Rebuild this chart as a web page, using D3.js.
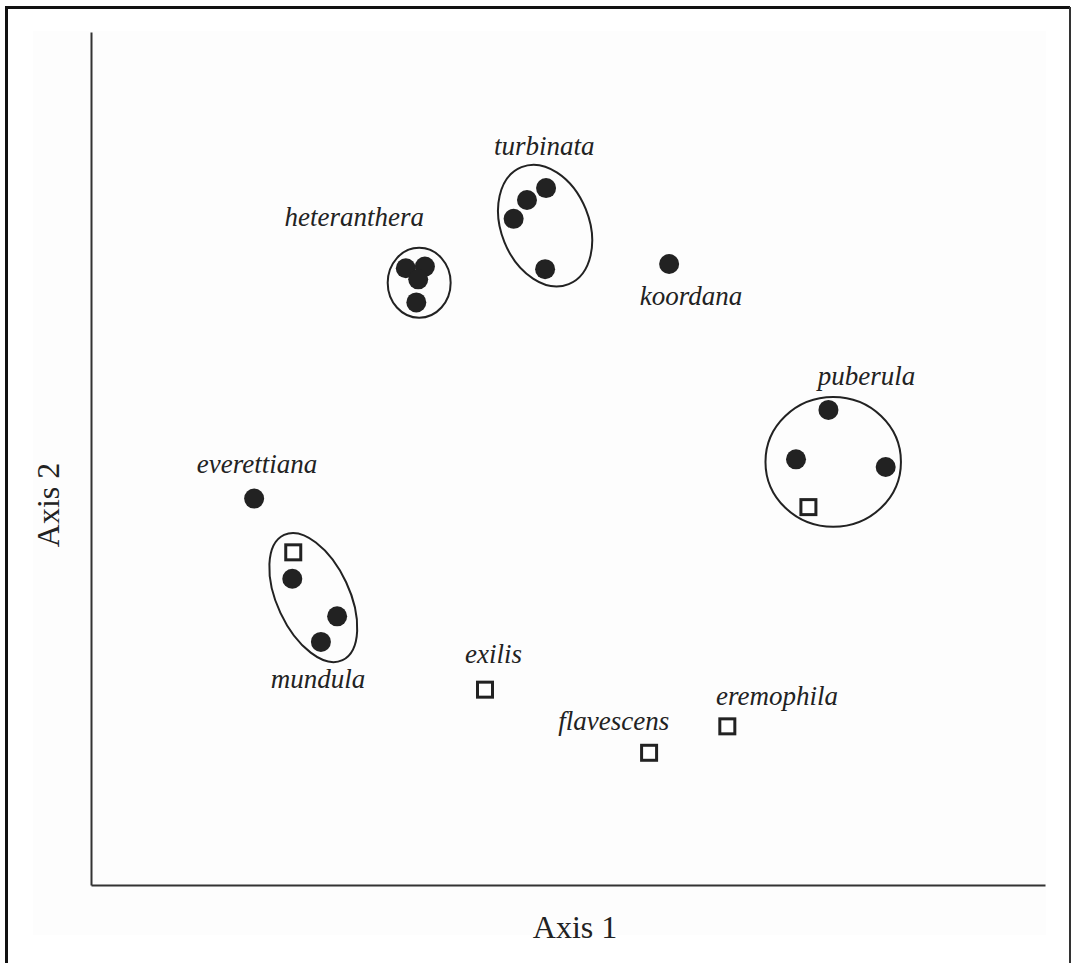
<!DOCTYPE html>
<html>
<head>
<meta charset="utf-8">
<script src="https://cdn.jsdelivr.net/npm/d3@7"></script>
<style>
  body { margin: 0; background: #fff; }
  svg { display: block; }
</style>
</head>
<body>
<div id="chart"></div>
<script>
// ordination scores (arbitrary units, 0-100 on each axis)
const dotX   = [33.0, 35.0, 34.3, 34.1, 47.7, 45.7, 44.3, 47.6, 60.6, 77.3, 73.9, 83.3, 17.1, 21.1, 25.8, 24.1];
const dotY   = [72.3, 72.5, 71.0, 68.3, 81.7, 80.3, 78.1, 72.2, 72.8, 55.7, 49.9, 49.0, 45.3, 35.9, 31.5, 28.5];

const squareX = [75.2, 21.2, 41.3, 58.5, 66.7];
const squareY = [44.3, 39.0, 22.9, 15.5, 18.6];

// groups circled in the plot: centre, radii (axis units), tilt in degrees
const hullCx    = [34.4, 47.6, 23.3, 77.8];
const hullCy    = [70.6, 77.3, 33.7, 49.6];
const hullRx    = [3.3, 4.6, 3.8, 7.1];
const hullRy    = [4.1, 7.4, 8.1, 7.6];
const hullAngle = [0, -22, -25, 0];

const labelText = ["turbinata", "heteranthera", "koordana", "puberula", "everettiana",
                   "mundula", "exilis", "flavescens", "eremophila"];
const labelX = [47.5, 27.6, 62.9, 81.3, 17.4, 23.8, 42.2, 54.8, 71.9];
const labelY = [85.6, 77.3, 68.0, 58.6, 48.3, 23.1, 26.0, 18.2, 21.1];

const axisTitles = ["Axis 1", "Axis 2"];

const W = 1072, H = 963;
const margin = {top: 32, right: 27, bottom: 78, left: 91};

const svg = d3.select("#chart").append("svg")
    .attr("width", W)
    .attr("height", H);

// faint page panel + frame
svg.append("rect")
    .attr("x", 33).attr("y", 31).attr("width", 1013).attr("height", 904)
    .attr("fill", "#fdfdfd");
svg.append("path")
    .attr("d", "M6.5,963 V7.5 H1070")
    .attr("fill", "none").attr("stroke", "#111").attr("stroke-width", 3);
svg.append("path")
    .attr("d", "M1070,7 V963")
    .attr("fill", "none").attr("stroke", "#333").attr("stroke-width", 2);

const x = d3.scaleLinear().domain([0, 100]).range([margin.left, W - margin.right]);
const y = d3.scaleLinear().domain([0, 100]).range([H - margin.bottom, margin.top]);

// axes without ticks
svg.append("g")
    .attr("transform", "translate(0," + y(0) + ")")
    .call(d3.axisBottom(x).tickValues([]).tickSizeOuter(0))
    .call(g => g.select(".domain").attr("stroke", "#333").attr("stroke-width", 2));
svg.append("g")
    .attr("transform", "translate(" + x(0) + ",0)")
    .call(d3.axisLeft(y).tickValues([]).tickSizeOuter(0))
    .call(g => g.select(".domain").attr("stroke", "#333").attr("stroke-width", 2));

// hulls
svg.append("g").selectAll("ellipse")
  .data(hullCx)
  .join("ellipse")
    .attr("cx", 0).attr("cy", 0)
    .attr("rx", (d, i) => x(hullRx[i]) - x(0))
    .attr("ry", (d, i) => y(0) - y(hullRy[i]))
    .attr("transform", (d, i) => "translate(" + x(d) + "," + y(hullCy[i]) + ") rotate(" + hullAngle[i] + ")")
    .attr("fill", "none")
    .attr("stroke", "#222")
    .attr("stroke-width", 2);

// filled points
svg.append("g").selectAll("circle")
  .data(dotX)
  .join("circle")
    .attr("cx", d => x(d))
    .attr("cy", (d, i) => y(dotY[i]))
    .attr("r", 10)
    .attr("fill", "#222");

// open squares
svg.append("g").selectAll("rect")
  .data(squareX)
  .join("rect")
    .attr("x", d => x(d) - 7.5)
    .attr("y", (d, i) => y(squareY[i]) - 7.5)
    .attr("width", 15).attr("height", 15)
    .attr("fill", "#fff")
    .attr("stroke", "#222")
    .attr("stroke-width", 3);

// species names
svg.append("g").selectAll("text")
  .data(labelText)
  .join("text")
    .attr("x", (d, i) => x(labelX[i]))
    .attr("y", (d, i) => y(labelY[i]))
    .attr("text-anchor", "middle")
    .attr("font-family", "'Liberation Serif', 'Times New Roman', serif")
    .attr("font-style", "italic")
    .attr("font-size", 27)
    .attr("fill", "#222")
    .text(d => d);

// axis titles
svg.append("text")
    .attr("x", (x(0) + x(100)) / 2 + 7)
    .attr("y", 938)
    .attr("text-anchor", "middle")
    .attr("font-family", "'Liberation Serif', 'Times New Roman', serif")
    .attr("font-size", 32)
    .attr("fill", "#222")
    .text(axisTitles[0]);
svg.append("text")
    .attr("transform", "translate(59," + 505 + ") rotate(-90)")
    .attr("text-anchor", "middle")
    .attr("font-family", "'Liberation Serif', 'Times New Roman', serif")
    .attr("font-size", 32)
    .attr("fill", "#222")
    .text(axisTitles[1]);
</script>
</body>
</html>
